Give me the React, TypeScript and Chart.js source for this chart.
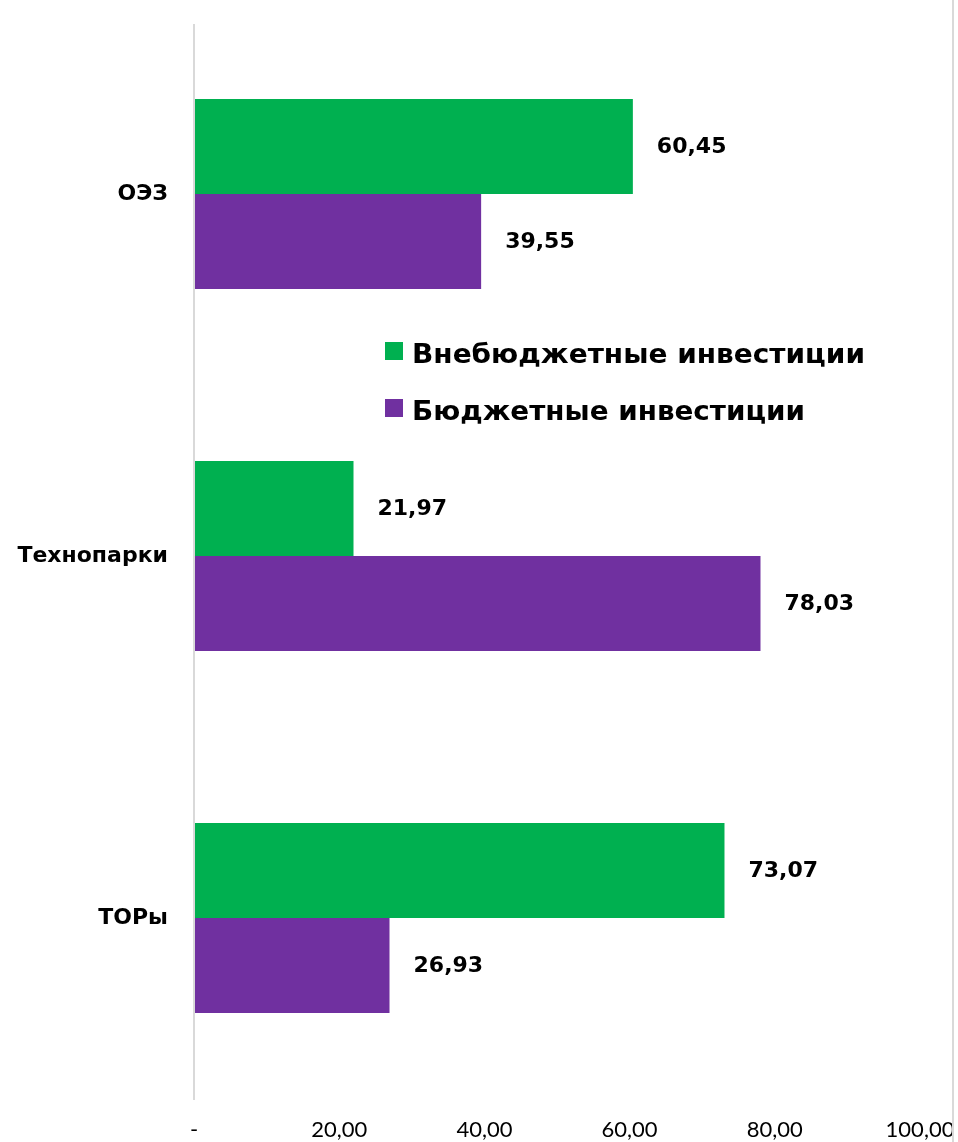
import React, { useEffect, useRef } from "react";
import { Chart, registerables } from "chart.js";

Chart.register(...registerables);

const categories = ["ОЭЗ", "Технопарки", "ТОРы"];
const seriesNames = ["Внебюджетные инвестиции", "Бюджетные инвестиции"];
const offBudget = [60.45, 21.97, 73.07];
const budget = [39.55, 78.03, 26.93];
const colors = ["#00B050", "#7030A0"];
const xTicks = [0, 20, 40, 60, 80, 100];

const fmt = (v: number) => (v === 0 ? "-" : v.toFixed(2).replace(".", ","));

const valueLabels = {
  id: "valueLabels",
  afterDatasetsDraw(chart: any) {
    const ctx = chart.ctx;
    ctx.save();
    ctx.font = "bold 22px 'DejaVu Sans'";
    ctx.fillStyle = "#000";
    ctx.textAlign = "left";
    ctx.textBaseline = "middle";
    chart.data.datasets.forEach((ds: any, di: number) => {
      const meta = chart.getDatasetMeta(di);
      meta.data.forEach((bar: any, i: number) => {
        ctx.fillText(fmt(ds.data[i]), bar.x + 24, bar.y + 1);
      });
    });
    ctx.restore();
  },
};

const customLegend = {
  id: "customLegend",
  afterDraw(chart: any) {
    const ctx = chart.ctx;
    const area = chart.chartArea;
    ctx.save();
    // value axis line
    ctx.strokeStyle = "#d9d9d9";
    ctx.lineWidth = 2;
    ctx.beginPath();
    ctx.moveTo(area.left, 24);
    ctx.lineTo(area.left, area.bottom + 1);
    ctx.stroke();
    // outer frame line on the right
    ctx.beginPath();
    ctx.moveTo(953, 0);
    ctx.lineTo(953, 1142);
    ctx.stroke();

    const targetWidths = [453, 393];
    chart.data.datasets.forEach((ds: any, i: number) => {
      const y = 342 + i * 57;
      ctx.fillStyle = ds.backgroundColor;
      ctx.fillRect(385, y, 18, 18);
      ctx.font = "bold 26px 'DejaVu Sans'";
      ctx.fillStyle = "#000";
      ctx.textBaseline = "alphabetic";
      ctx.textAlign = "left";
      const w = ctx.measureText(ds.label).width;
      const s = targetWidths[i] / w;
      ctx.save();
      ctx.translate(412, y + 21);
      ctx.scale(s, 1);
      ctx.fillText(ds.label, 0, 0);
      ctx.restore();
    });
    ctx.restore();
  },
};

export default function App() {
  const ref = useRef<HTMLCanvasElement>(null);
  useEffect(() => {
    document.body.style.margin = "0";
    const chart = new Chart(ref.current!, {
      type: "bar",
      data: {
        labels: categories,
        datasets: [
          { label: seriesNames[0], data: offBudget, backgroundColor: colors[0] },
          { label: seriesNames[1], data: budget, backgroundColor: colors[1] },
        ],
      },
      options: {
        indexAxis: "y",
        responsive: true,
        maintainAspectRatio: false,
        animation: false,
        categoryPercentage: 0.525,
        barPercentage: 1.0,
        layout: { padding: { top: 13, right: 38, bottom: 0, left: 0 } },
        plugins: {
          legend: { display: false },
          tooltip: { enabled: false },
          title: { display: false },
        },
        scales: {
          x: {
            min: 0,
            max: 100,
            afterBuildTicks: (scale: any) => {
              scale.ticks = xTicks.map((v) => ({ value: v }));
            },
            afterFit: (scale: any) => {
              scale.height = 43;
              scale.paddingLeft = 0;
              scale.paddingRight = 0;
            },
            ticks: {
              callback: (v: any) => fmt(Number(v)),
              font: { family: "Lato", size: 22 },
              color: "#000",
              padding: 10,
              maxRotation: 0,
            },
            grid: { display: false },
            border: { display: false },
          },
          y: {
            afterFit: (scale: any) => {
              scale.width = 194;
              scale.paddingTop = 0;
              scale.paddingBottom = 0;
            },
            ticks: {
              font: { family: "DejaVu Sans", size: 22, weight: "bold" },
              color: "#000",
              padding: 18,
            },
            grid: { display: false },
            border: { display: false },
          },
        },
      },
      plugins: [valueLabels, customLegend],
    } as any);
    return () => chart.destroy();
  }, []);
  return (
    <div style={{ width: 958, height: 1142, position: "relative", overflow: "hidden" }}>
      <canvas ref={ref} />
    </div>
  );
}
